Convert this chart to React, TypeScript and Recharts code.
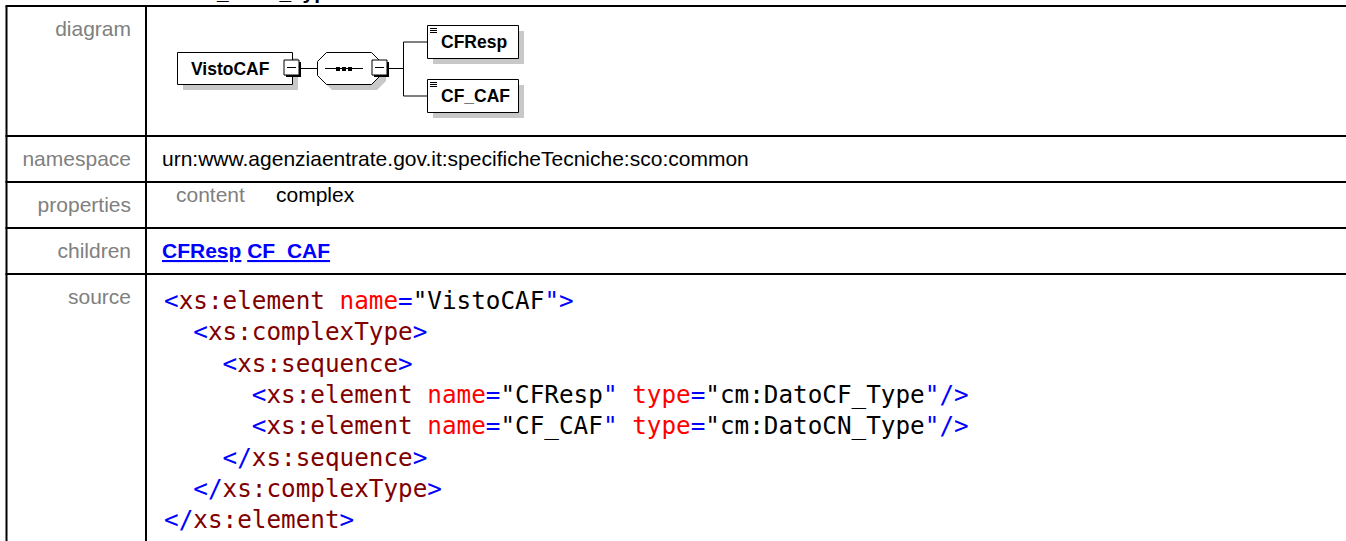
import React from "react";
import { Surface, Layer, Rectangle, Polygon, Curve, Text } from "recharts";

// Dati della tabella
const rowLabels = ["diagram", "namespace", "properties", "children", "source"];
const titleText = "element DatiGenerali_Visto_Type/VistoCAF";
const namespaceValue = "urn:www.agenziaentrate.gov.it:specificheTecniche:sco:common";
const propertyNames = ["content"];
const propertyValues = ["complex"];
const rootName = "VistoCAF";
const childNames = ["CFResp", "CF_CAF"];

// Righe del sorgente: [rientro, token]
type Tok = [string, "b" | "t" | "a" | "v"];
const sourceLines: [number, Tok[]][] = [
  [0, [["<", "b"], ["xs:element", "t"], [" ", "v"], ["name", "a"], ["=", "b"], ["\"VistoCAF", "v"], ["\">", "b"]]],
  [1, [["<", "b"], ["xs:complexType", "t"], [">", "b"]]],
  [2, [["<", "b"], ["xs:sequence", "t"], [">", "b"]]],
  [3, [["<", "b"], ["xs:element", "t"], [" ", "v"], ["name", "a"], ["=", "b"], ["\"CFResp", "v"], ["\"", "b"], [" ", "v"], ["type", "a"], ["=", "b"], ["\"cm:DatoCF_Type", "v"], ["\"/>", "b"]]],
  [3, [["<", "b"], ["xs:element", "t"], [" ", "v"], ["name", "a"], ["=", "b"], ["\"CF_CAF", "v"], ["\"", "b"], [" ", "v"], ["type", "a"], ["=", "b"], ["\"cm:DatoCN_Type", "v"], ["\"/>", "b"]]],
  [2, [["</", "b"], ["xs:sequence", "t"], [">", "b"]]],
  [1, [["</", "b"], ["xs:complexType", "t"], [">", "b"]]],
  [0, [["</", "b"], ["xs:element", "t"], [">", "b"]]],
];

const W = 1346;
const H = 541;
const SANS = "'Liberation Sans', Arial, sans-serif";
const MONO = "'DejaVu Sans Mono', monospace";
const tokColors = { b: "#0000ff", t: "#800000", a: "#ff0000", v: "#000000" };

// Layout
const leftX = 6.5;
const divX = 146;
const rowTops = [6, 136, 182, 228, 274];
const labelBase = [36, 166, 212, 258, 304];
const valueX = 162;
const codeCharW = 14.63;
const codeBase = 309;
const codeStep = 31.3;

const SHADOW = "#c8c8c8";

const MinusBox = ({ cx, cy }: { cx: number; cy: number }) => (
  <Layer>
    <Rectangle x={cx - 6} y={cy - 6} width={15} height={15} fill="#000" />
    <Rectangle x={cx - 8} y={cy - 8} width={15} height={15} fill="#fff" stroke="#000" strokeWidth={1} />
    <Curve type="linear" points={[{ x: cx - 5, y: cy - 0.5 }, { x: cx + 4, y: cy - 0.5 }]} stroke="#000" strokeWidth={1} />
  </Layer>
);

const ElementBox = ({ x, y, w, h, label, icon }: { x: number; y: number; w: number; h: number; label: string; icon?: boolean }) => (
  <Layer>
    <Rectangle x={x + 6} y={y + 6} width={w} height={h} fill={SHADOW} />
    <Rectangle x={x + 0.5} y={y + 0.5} width={w} height={h} fill="#fff" stroke="#000" strokeWidth={1} />
    {icon &&
      [0, 2, 4].map((d) => (
        <Curve key={d} type="linear" points={[{ x: x + 3, y: y + 3.5 + d }, { x: x + 10, y: y + 3.5 + d }]} stroke="#000" strokeWidth={1} />
      ))}
    <text x={x + (icon ? 14 : 14)} y={y + h / 2 + 6.5} fontFamily={SANS} fontSize={17.5} fontWeight="bold" fill="#000">
      {label}
    </text>
  </Layer>
);

const octagon = (x: number, y: number, w: number, h: number, c: number) => [
  { x: x + c, y },
  { x: x + w - c, y },
  { x: x + w, y: y + c },
  { x: x + w, y: y + h - c },
  { x: x + w - c, y: y + h },
  { x: x + c, y: y + h },
  { x, y: y + h - c },
  { x, y: y + c },
];

const Diagram = () => {
  const root = { x: 177, y: 52, w: 115, h: 32 };
  const cy = root.y + root.h / 2;
  const seq = { x: 317, y: 52, w: 63, h: 32 };
  const branchX = 403;
  const childX = 427;
  const childW = 91;
  const childH = 33;
  const childTops = [25, 79];
  return (
    <Layer>
      <ElementBox {...root} label={rootName} />
      <MinusBox cx={root.x + root.w} cy={cy} />
      <Curve type="linear" points={[{ x: root.x + root.w + 8, y: cy + 0.5 }, { x: seq.x, y: cy + 0.5 }]} stroke="#000" strokeWidth={1} />
      <Polygon points={octagon(seq.x + 6, seq.y + 6, seq.w, seq.h, 9)} fill={SHADOW} />
      <Polygon points={octagon(seq.x + 0.5, seq.y + 0.5, seq.w, seq.h, 9)} fill="#fff" stroke="#000" strokeWidth={1} />
      <Curve type="linear" points={[{ x: seq.x + 8, y: cy + 0.5 }, { x: seq.x + 46, y: cy + 0.5 }]} stroke="#000" strokeWidth={1} />
      {[0, 1, 2].map((i) => (
        <Rectangle key={i} x={seq.x + 19 + i * 6} y={cy - 1} width={4} height={4} fill="#000" />
      ))}
      <MinusBox cx={seq.x + seq.w} cy={cy} />
      <Curve type="linear" points={[{ x: seq.x + seq.w + 8, y: cy + 0.5 }, { x: branchX, y: cy + 0.5 }]} stroke="#000" strokeWidth={1} />
      <Curve
        type="linear"
        points={[
          { x: childX, y: childTops[0] + childH / 2 + 0.5 },
          { x: branchX + 0.5, y: childTops[0] + childH / 2 + 0.5 },
          { x: branchX + 0.5, y: childTops[1] + childH / 2 + 0.5 },
          { x: childX, y: childTops[1] + childH / 2 + 0.5 },
        ]}
        stroke="#000"
        strokeWidth={1}
        fill="none"
      />
      {childNames.map((name, i) => (
        <ElementBox key={name} x={childX} y={childTops[i]} w={childW} h={childH} label={name} icon />
      ))}
    </Layer>
  );
};

const App = () => {
  const codeStyle = { whiteSpace: "pre" } as React.CSSProperties;
  return (
    <div style={{ position: "absolute", left: 0, top: 0, width: W, height: H, background: "#fff" }}>
      <Surface width={W} height={H} viewBox={{ x: 0, y: 0, width: W, height: H }}>
        {/* titolo tagliato in alto */}
        <text x={8} y={-1} fontFamily={SANS} fontSize={21} fontWeight="bold" fill="#000">
          {titleText}
        </text>

        {/* griglia della tabella */}
        {rowTops.map((y) => (
          <Curve key={y} type="linear" points={[{ x: leftX - 1, y }, { x: W, y }]} stroke="#000" strokeWidth={2} />
        ))}
        <Curve type="linear" points={[{ x: leftX, y: rowTops[0] }, { x: leftX, y: H }]} stroke="#000" strokeWidth={2} />
        <Curve type="linear" points={[{ x: divX, y: rowTops[0] }, { x: divX, y: H }]} stroke="#000" strokeWidth={2} />

        {/* etichette */}
        {rowLabels.map((l, i) => (
          <Text key={l} x={131} y={labelBase[i]} textAnchor="end" fontFamily={SANS} fontSize={21} fill="#808080">
            {l}
          </Text>
        ))}

        <Diagram />

        <text x={valueX} y={labelBase[1]} fontFamily={SANS} fontSize={21} fill="#000">
          {namespaceValue}
        </text>

        {propertyNames.map((p, i) => (
          <Layer key={p}>
            <text x={176} y={202} fontFamily={SANS} fontSize={21} fill="#808080">
              {p}
            </text>
            <text x={276} y={202} fontFamily={SANS} fontSize={21} fill="#000">
              {propertyValues[i]}
            </text>
          </Layer>
        ))}

        <text x={valueX} y={labelBase[3]} fontFamily={SANS} fontSize={21} fontWeight="bold" fill="#0000ff" style={codeStyle}>
          {childNames.map((c, i) => (
            <React.Fragment key={c}>
              <tspan textDecoration="underline">{c}</tspan>
              {i < childNames.length - 1 ? <tspan> </tspan> : null}
            </React.Fragment>
          ))}
        </text>

        {sourceLines.map(([indent, toks], i) => (
          <text key={i} x={valueX + 2 + indent * 2 * codeCharW} y={codeBase + i * codeStep} fontFamily={MONO} fontSize={24.3} style={codeStyle}>
            {toks.map(([s, k], j) => (
              <tspan key={j} fill={tokColors[k]}>
                {s}
              </tspan>
            ))}
          </text>
        ))}
      </Surface>
    </div>
  );
};

export default App;
